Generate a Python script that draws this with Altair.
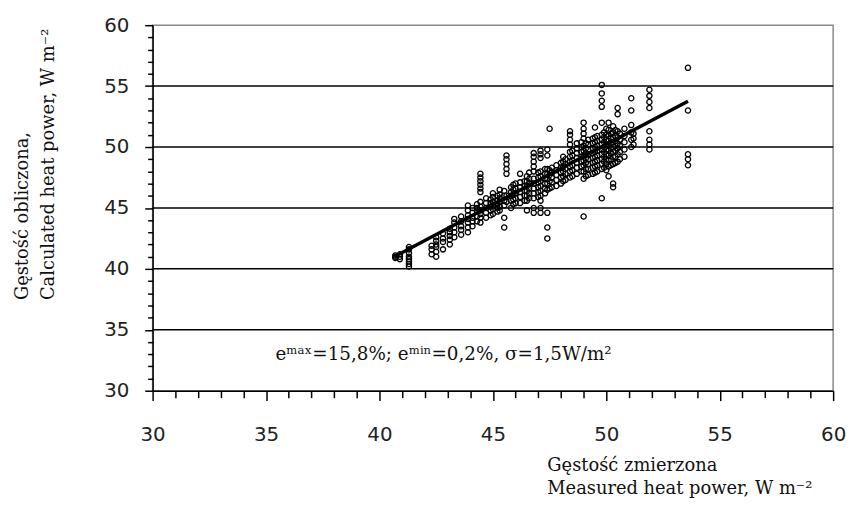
import altair as alt
import pandas as pd

# Measured heat power columns (x) and calculated values (y)
col_x = [40.7, 40.9, 41.3, 42.3, 42.5, 42.8, 43.1, 43.3, 43.6, 43.9, 44.1, 44.3,
         44.45, 44.7, 44.9, 45.0, 45.2, 45.3, 45.5, 45.6, 45.8, 45.9, 46.0, 46.2,
         46.4, 46.5, 46.6, 46.8, 47.0, 47.1, 47.3, 47.4, 47.5, 47.6, 47.8, 48.0,
         48.1, 48.2, 48.4, 48.5, 48.7, 48.9, 49.0, 49.1, 49.2, 49.4, 49.5, 49.6,
         49.8, 49.9, 50.0, 50.1, 50.2, 50.3, 50.4, 50.5, 50.6, 50.8, 51.1, 51.2,
         51.9, 53.6]
col_y = [
    [40.9, 41.0, 41.1],
    [40.8, 41.0, 41.2],
    [40.2, 40.4, 40.6, 40.8, 41.0, 41.3, 41.6, 41.8],
    [41.2, 41.6, 41.9],
    [41.0, 41.4, 41.8, 42.0, 42.3, 42.6],
    [41.6, 42.2, 42.5, 42.9],
    [42.0, 42.4, 42.7, 43.0, 43.3],
    [42.6, 43.0, 43.4, 43.8, 44.1],
    [42.8, 43.2, 43.5, 43.9, 44.3],
    [43.0, 43.4, 43.8, 44.1, 44.4, 44.8, 45.2],
    [43.5, 43.9, 44.2, 44.6, 45.0],
    [43.9, 44.3, 44.7, 45.0, 45.3],
    [43.8, 44.2, 44.5, 44.8, 45.1, 45.5, 46.3, 46.6, 46.9, 47.2, 47.5, 47.8],
    [44.2, 44.6, 45.0, 45.4, 45.8],
    [44.4, 44.8, 45.1, 45.4, 45.7],
    [44.5, 44.9, 45.2, 45.5, 45.9, 46.2],
    [44.7, 45.0, 45.3, 45.6, 46.0],
    [44.8, 45.1, 45.5, 45.8, 46.1, 46.5],
    [43.4, 44.2, 45.2, 45.6, 46.0, 46.4],
    [45.5, 46.0, 47.8, 48.2, 48.6, 49.0, 49.3],
    [45.0, 45.6, 46.0, 46.3, 46.7],
    [45.3, 45.7, 46.1, 46.5, 46.9],
    [45.4, 45.8, 46.2, 46.6, 47.0],
    [45.4, 45.9, 46.3, 46.7, 47.1, 47.8],
    [45.6, 46.0, 46.4, 46.8, 47.2],
    [44.8, 45.6, 46.0, 46.4, 46.8, 47.2, 47.6],
    [45.8, 46.2, 46.6, 47.0, 47.4, 47.9],
    [44.6, 45.0, 45.8, 46.2, 46.6, 47.0, 47.4, 48.0, 48.4, 48.8, 49.2, 49.5],
    [45.9, 46.3, 46.7, 47.1, 47.5, 47.9],
    [44.6, 45.0, 45.6, 46.0, 46.4, 46.8, 47.2, 47.6, 48.0, 49.1, 49.4, 49.7],
    [46.2, 46.6, 47.0, 47.4, 47.8, 48.2],
    [42.5, 43.4, 44.6, 46.5, 47.0, 47.4, 47.8, 48.2, 49.3, 49.8],
    [46.6, 47.2, 47.7, 48.1, 51.5],
    [46.7, 47.1, 47.5, 47.9, 48.3],
    [46.8, 47.3, 47.7, 48.1, 48.5],
    [47.0, 47.5, 47.9, 48.3, 48.7],
    [47.2, 47.6, 48.0, 48.4, 48.8, 49.2],
    [47.3, 47.8, 48.2, 48.6, 49.0],
    [47.5, 48.0, 48.4, 48.8, 49.2, 49.6, 50.2, 50.6, 51.0, 51.3],
    [47.6, 48.1, 48.5, 48.9, 49.3, 49.7],
    [47.8, 48.3, 48.7, 49.1, 49.5, 49.9, 50.3],
    [48.0, 48.4, 48.8, 49.2, 49.6, 50.0, 50.4],
    [44.3, 47.4, 48.0, 48.5, 48.9, 49.3, 49.7, 50.1, 50.7, 51.1, 51.5, 52.0],
    [47.6, 48.2, 48.7, 49.1, 49.5, 49.9, 50.3],
    [47.7, 48.2, 48.6, 49.0, 49.4, 49.8, 50.2, 50.6],
    [47.8, 48.3, 48.7, 49.1, 49.5, 49.9, 50.3, 50.7],
    [47.9, 48.4, 48.8, 49.2, 49.6, 50.0, 50.4, 50.8, 51.6],
    [48.0, 48.5, 48.9, 49.3, 49.7, 50.1, 50.5, 50.9],
    [45.8, 48.2, 48.6, 49.0, 49.4, 49.8, 50.2, 50.6, 51.0, 52.0, 53.3, 53.8, 54.4, 55.1],
    [48.3, 48.8, 49.2, 49.6, 50.0, 50.4, 50.8, 51.2],
    [48.1, 48.6, 49.0, 49.4, 49.8, 50.2, 50.6, 51.0, 51.5],
    [47.6, 48.4, 48.9, 49.3, 49.7, 50.1, 50.5, 50.9, 51.4, 52.0],
    [48.5, 49.0, 49.5, 49.9, 50.3, 50.7, 51.1],
    [46.7, 47.0, 48.6, 49.2, 49.6, 50.0, 50.4, 50.8, 51.2, 51.7],
    [48.7, 49.2, 49.7, 50.1, 50.5, 50.9, 51.4],
    [48.8, 49.4, 49.9, 50.3, 50.8, 51.3, 52.7, 53.2],
    [49.0, 49.6, 50.1, 50.6, 51.1],
    [49.2, 49.8, 50.4, 50.9, 51.5],
    [50.0, 50.6, 51.2, 51.8, 53.0, 54.0],
    [50.2, 50.7, 51.1],
    [49.8, 50.2, 50.6, 51.3, 53.2, 53.7, 54.2, 54.7],
    [48.5, 49.0, 49.4, 53.0, 56.5],
]

# Fitted line end points
line_x = [40.65, 53.6]
line_y = [41.0, 53.75]

grid_values = [35, 40, 45, 50, 55]
tick_values = list(range(30, 61))

y_title = ["Gęstość obliczona,", "Calculated heat power, W m⁻²"]
x_title = ["Gęstość zmierzona", "Measured heat power, W m⁻²"]
note = "eᵐᵃˣ=15,8%; eᵐⁱⁿ=0,2%, σ=1,5W/m²"

pts = pd.DataFrame([{"x": x, "y": y} for x, ys in zip(col_x, col_y) for y in ys])
ln = pd.DataFrame({"x": line_x, "y": line_y})
grid = pd.DataFrame({"g": grid_values})

sx = alt.Scale(domain=[30, 60], nice=False, zero=False)
sy = alt.Scale(domain=[30, 60], nice=False, zero=False)

major = "datum.value % 5 == 0"
serif = "DejaVu Serif"

x_axis = alt.Axis(
    values=tick_values,
    labelExpr=f"{major} ? datum.label : ''",
    labelOverlap=False, labelFlush=False,
    labelFont="DejaVu Sans", labelFontSize=20, labelColor="#222",
    labelPadding=24,
    tickSize={"condition": {"test": major, "value": 10}, "value": 7},
    tickColor="black", tickWidth=1.5,
    domainColor="black", domainWidth=1.5,
    grid=False,
    title=x_title, titleFont=serif, titleFontSize=18,
    titleFontWeight="normal", titleColor="#111",
    titleAlign="left", titleAnchor="start", titleBaseline="alphabetic",
    titleX=398, titleY=81, titleLineHeight=23,
)
y_axis = alt.Axis(
    values=tick_values,
    labelExpr=f"{major} ? datum.label : ''",
    labelOverlap=False, labelFlush=False,
    labelFont="DejaVu Sans", labelFontSize=20, labelColor="#222",
    labelPadding=16,
    tickSize={"condition": {"test": major, "value": 8}, "value": 5},
    tickColor="black", tickWidth=1.5,
    domainColor="black", domainWidth=1.5,
    grid=False,
    title=y_title, titleFont=serif, titleFontSize=18,
    titleFontWeight="normal", titleColor="#111",
    titleAngle=270, titleAlign="left", titleBaseline="alphabetic",
    titleX=-126, titleY=277, titleLineHeight=26,
)

grid_layer = alt.Chart(grid).mark_rule(color="black", strokeWidth=1.5).encode(
    y=alt.Y("g:Q", scale=sy, axis=y_axis)
)

points = alt.Chart(pts).mark_point(
    shape="circle", filled=False, size=28, color="black", strokeWidth=1.3, opacity=1
).encode(
    x=alt.X("x:Q", scale=sx, axis=x_axis),
    y=alt.Y("y:Q", scale=sy, axis=y_axis),
)

line = alt.Chart(ln).mark_line(color="black", strokeWidth=3.5).encode(
    x=alt.X("x:Q", scale=sx, axis=x_axis),
    y=alt.Y("y:Q", scale=sy, axis=y_axis),
)

text = alt.Chart(pd.DataFrame({"t": [note]})).mark_text(
    align="left", baseline="alphabetic", font=serif, fontSize=18.5, color="#111"
).encode(text="t:N", x=alt.value(124), y=alt.value(338))

chart = alt.layer(grid_layer, points, line, text).properties(
    width=687, height=369,
    autosize=alt.AutoSizeParams(type="none"),
    padding={"left": 146, "top": 15, "right": 15, "bottom": 110},
).configure_view(stroke="#8a8a8a", strokeWidth=1.5)

chart.save("out.html", embed_options={"renderer": "svg", "actions": False})
